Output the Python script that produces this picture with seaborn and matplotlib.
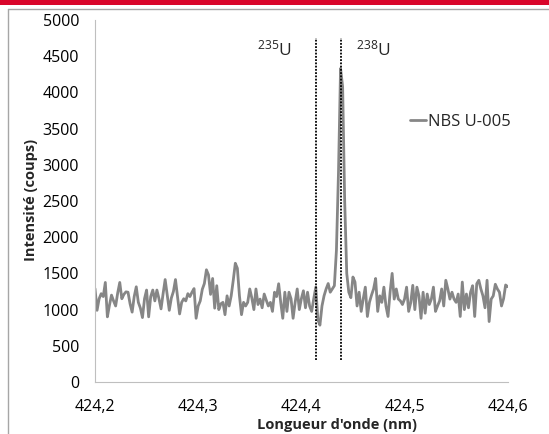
import numpy as np
import pandas as pd
import matplotlib
matplotlib.use('Agg')
import matplotlib.pyplot as plt
import seaborn as sns
from matplotlib.lines import Line2D
from matplotlib.patches import Rectangle

# spectrum, one point every 0.002 nm from 424,2 nm
wl_start = 424.2
wl_step = 0.002
counts = [
    1290, 990, 1150, 1220, 1180, 1375, 900, 1060, 1200, 1120,
    1050, 1230, 1375, 1150, 1210, 1245, 1240, 1080, 965, 1180,
    1315, 1100, 1020, 890, 1150, 1270, 900, 1180, 1270, 1120,
    1270, 1150, 1010, 1220, 1415, 1200, 990, 1160, 1250, 1415,
    1180, 940, 1100, 1150, 1120, 1220, 1180, 1240, 1290, 880,
    1050, 1120, 1280, 1360, 1550, 1480, 1210, 1430, 1020, 1330,
    1000, 1080, 1100, 930, 1190, 1050, 1190, 1405, 1640, 1570,
    1190, 930, 1100, 1050, 1100, 1285, 1160, 1000, 1285, 1070,
    1145, 1025, 1215, 1130, 1050, 1100, 975, 1240, 1180, 1357,
    1100, 880, 1240, 975, 1240, 1150, 880, 1100, 1285, 1000,
    1150, 1260, 1025, 1240, 1050, 975, 1150, 1310, 860, 785,
    1050, 1190, 1285, 1360, 1240, 1285, 1330, 1820, 2900, 4330,
    4080, 2500, 1500, 1240, 1165, 1450, 1380, 1050, 1240, 975,
    1150, 1310, 905, 1100, 1200, 1285, 1430, 975, 1190, 1100,
    1310, 1050, 905, 1240, 1500, 1145, 1285, 1145, 1120, 1070,
    1145, 1310, 975, 1095, 1335, 1000, 1310, 1190, 880, 1240,
    950, 1215, 1070, 1145, 1310, 975, 1050, 1120, 1285, 1050,
    1405, 1285, 1145, 1240, 1145, 1100, 1215, 905, 1380, 1000,
    1215, 1025, 1240, 1330, 905, 1357, 1405, 1285, 1190, 1025,
    1405, 835, 1145, 1190, 1350, 1285, 1240, 1050, 1150, 1340,
    1316,
]
wavelength = [round(wl_start + wl_step * i, 4) for i in range(len(counts))]

isotope_pos = [424.414, 424.438]
isotope_mass = ['235', '238']
series_name = 'NBS U-005'
x_ticks = [424.2, 424.3, 424.4, 424.5, 424.6]
x_ticklabels = ['424,2', '424,3', '424,4', '424,5', '424,6']
y_ticks = list(range(0, 5001, 500))

df = pd.DataFrame({'wl': wavelength, 'counts': counts, 'serie': series_name})

sns.set_style('white')
plt.rcParams['font.family'] = ['Open Sans', 'DejaVu Sans']
plt.rcParams['mathtext.fontset'] = 'custom'
plt.rcParams['mathtext.rm'] = 'Open Sans'

W, H = 549, 434
fig = plt.figure(figsize=(W / 100, H / 100), dpi=100)
ax = fig.add_axes([95 / W, 1 - 382 / H, (507.7 - 95) / W, (382 - 20) / H])

sns.lineplot(data=df, x='wl', y='counts', hue='serie', palette=['#868686'],
             linewidth=2.0, ax=ax)

ax.vlines(isotope_pos, 300, 4750, colors='black', linestyles=(0, (1, 0.8)),
          linewidth=1.3)
ax.text(isotope_pos[0] - 0.040, 4600, r'$\mathregular{^{%s}U}$' % isotope_mass[0],
        ha='center', va='center', fontsize=12.5)
ax.text(isotope_pos[1] + 0.032, 4600, r'$\mathregular{^{%s}U}$' % isotope_mass[1],
        ha='center', va='center', fontsize=12.5)

ax.set_xlim(424.2, 424.6)
ax.set_ylim(0, 5000)
ax.set_xticks(x_ticks)
ax.set_xticklabels(x_ticklabels)
ax.set_yticks(y_ticks)
ax.tick_params(axis='both', labelsize=11.5, colors='#BFBFBF', labelcolor='black',
               length=3, width=0.8, direction='out')
ax.tick_params(axis='x', pad=9)
ax.tick_params(axis='y', pad=8.5)
for s in ['top', 'right']:
    ax.spines[s].set_visible(False)
for s in ['left', 'bottom']:
    ax.spines[s].set_color('#BFBFBF')
    ax.spines[s].set_linewidth(0.8)

ax.set_xlabel('')
ax.set_ylabel('')
fig.text(337 / W, 1 - 425 / H, "Longueur d'onde (nm)", ha='center', va='center',
         fontsize=10.5, fontweight='bold')
fig.text(31 / W, 1 - 200 / H, 'Intensité (coups)', ha='center', va='center',
         rotation=90, fontsize=10.5, fontweight='bold')

ax.legend(loc='center left', bbox_to_anchor=(410 / W, 1 - 122 / H),
          bbox_transform=fig.transFigure, frameon=False, fontsize=12,
          handlelength=0.95, handletextpad=0.15, borderpad=0, borderaxespad=0)

# slide frame: red band and grey border
fig.patches.append(Rectangle((0, 1 - 4.5 / H), 1, 4.5 / H, transform=fig.transFigure,
                             facecolor='#D9062B', edgecolor='none'))
fig.lines.append(Line2D([7.5 / W, 7.5 / W], [0, 1 - 8.5 / H], transform=fig.transFigure,
                        color='#A6A6A6', linewidth=1))
fig.lines.append(Line2D([7.5 / W, 1], [1 - 8.5 / H, 1 - 8.5 / H], transform=fig.transFigure,
                        color='#A6A6A6', linewidth=1))

fig.savefig('out.png', dpi=100)
